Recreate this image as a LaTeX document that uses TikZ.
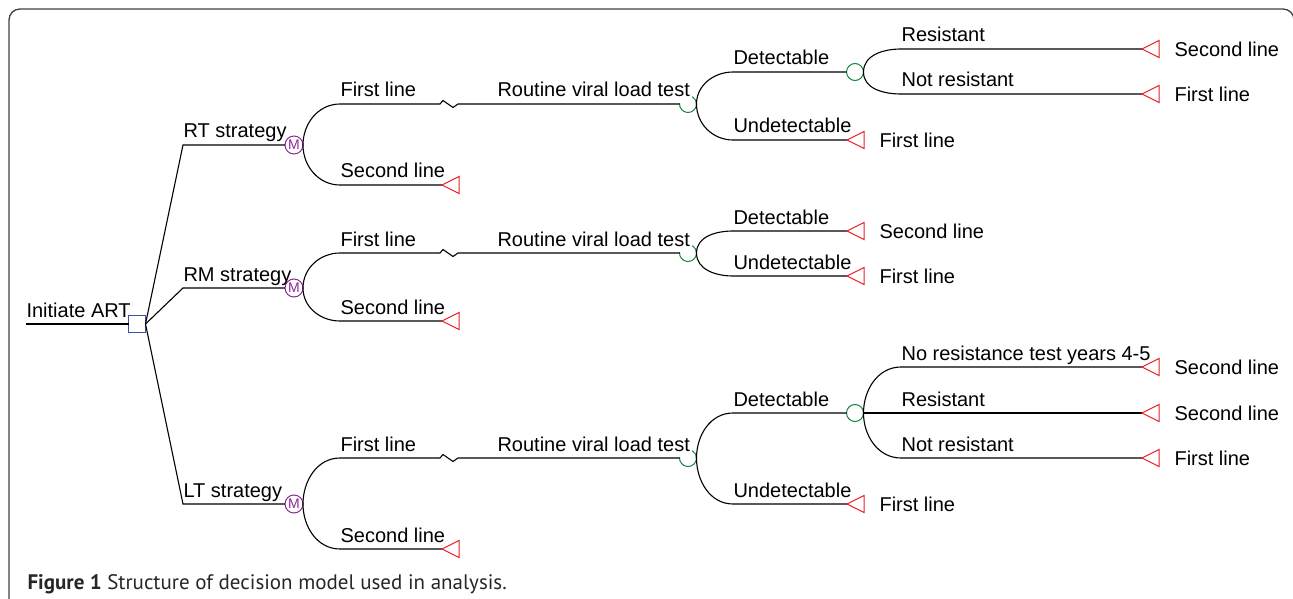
\documentclass[tikz,border=0pt]{standalone}
\usepackage{fontspec}
\setmainfont{Liberation Sans}
\newfontfamily\capfont{PT Sans}
\usepackage{tikz}
\usetikzlibrary{positioning}
\definecolor{decblue}{RGB}{60,80,170}
\definecolor{markovpurple}{RGB}{140,40,150}
\definecolor{chancegreen}{RGB}{20,130,60}
\definecolor{termred}{RGB}{235,30,35}

\begin{document}
\begin{tikzpicture}[x=1pt,y=-1pt,line width=1.1pt,
    every node/.style={font=\fontsize{20}{24}\selectfont},
    lab/.style={anchor=base west,inner sep=0pt,yshift=7pt},
    endlab/.style={anchor=west,inner sep=0pt,xshift=32pt},
    dec/.style={draw=decblue,rectangle,minimum size=17pt,inner sep=0pt,outer sep=0pt,line width=1pt},
    markov/.style={draw=markovpurple,text=markovpurple,circle,minimum size=18pt,inner sep=0pt,outer sep=0pt,line width=1pt,font=\fontsize{14}{14}\selectfont},
    chance/.style={draw=chancegreen,circle,minimum size=17pt,inner sep=0pt,outer sep=0pt,line width=1pt},
    term/.pic={\draw[termred,line width=1pt] (0,0) -- (17,-8.5) -- (17,8.5) -- cycle;}]
                \useasboundingbox (0,0) rectangle (1293,599);
                % frame
                \draw[line width=1.3pt,black!75,rounded corners=11pt] (9,620) -- (9,9) -- (1294,9) -- (1294,620);
                % decision node
                \node[dec] (init) at (137,324) {};
                \coordinate (root) at (26,324);
                \draw (root) node[lab] {Initiate ART} -- (init);
                % the three strategies
                \foreach \s/\y/\a/\b in {RT/145/104/185, RM/288/253/321, LT/504/458/549}
                  {
                    \coordinate (k\s) at (183,\y);
                    \node[markov] (m\s) at (294,\y) {M};
                    \draw (init.east) -- (k\s) node[lab] {\s\ strategy} -- (m\s);
                    \coordinate (f\s) at (340,\a);
                    \coordinate (s\s) at (340,\b);
                    \coordinate (t\s) at (442,\b);
                    \node[chance,draw=none] (c\s) at (688,\a) {};
                    \draw[chancegreen,line width=1pt] (c\s.175) arc[start angle=-175,end angle=-420,radius=8.5];
                    \draw (m\s.east) to[out=90,in=180] (f\s) node[lab] {First line}
                      -- ++(100,0) -- ++(3,-3.5) -- ++(10,7) -- ++(5,-3.5)
                      -- ++(39,0) node[lab] {Routine viral load test} -- (c\s.west);
                    \draw (m\s.east) to[out=-90,in=180] (s\s) node[lab] {Second line} -- (t\s);
                    \pic at (t\s) {term};
                  }
                % RT strategy, after the test
                \coordinate (rtD) at (733,72);
                \coordinate (rtU) at (733,140);
                \coordinate (tRTu) at (847,140);
                \node[chance] (dRT) at (855,72) {};
                \draw (cRT.east) to[out=90,in=180] (rtD) node[lab] {Detectable} -- (dRT);
                \draw (cRT.east) to[out=-90,in=180] (rtU) node[lab] {Undetectable} -- (tRTu) node[endlab] {First line};
                \coordinate (rtR) at (901,49);
                \coordinate (rtN) at (901,94);
                \coordinate (tRTr) at (1142,49);
                \coordinate (tRTn) at (1142,94);
                \draw (dRT.east) to[out=90,in=180] (rtR) node[lab] {Resistant} -- (tRTr) node[endlab] {Second line};
                \draw (dRT.east) to[out=-90,in=180] (rtN) node[lab] {Not resistant} -- (tRTn) node[endlab] {First line};
                % RM strategy, after the test
                \coordinate (rmD) at (733,231);
                \coordinate (rmU) at (733,276);
                \coordinate (tRMd) at (847,231);
                \coordinate (tRMu) at (847,276);
                \draw (cRM.east) to[out=90,in=180] (rmD) node[lab] {Detectable} -- (tRMd) node[endlab] {Second line};
                \draw (cRM.east) to[out=-90,in=180] (rmU) node[lab] {Undetectable} -- (tRMu) node[endlab] {First line};
                % LT strategy, after the test
                \coordinate (ltD) at (733,413);
                \coordinate (ltU) at (733,504);
                \coordinate (tLTu) at (847,504);
                \node[chance] (dLT) at (855,413) {};
                \draw (cLT.east) to[out=90,in=180] (ltD) node[lab] {Detectable} -- (dLT);
                \draw (cLT.east) to[out=-90,in=180] (ltU) node[lab] {Undetectable} -- (tLTu) node[endlab] {First line};
                \coordinate (ltX) at (901,367);
                \coordinate (ltR) at (901,413);
                \coordinate (ltN) at (901,458);
                \coordinate (tLTx) at (1142,367);
                \coordinate (tLTr) at (1142,413);
                \coordinate (tLTn) at (1142,458);
                \draw (dLT.east) to[out=90,in=180] (ltX) node[lab] {No resistance test years 4-5} -- (tLTx) node[endlab] {Second line};
                \draw (dLT.east) -- (ltR) node[lab] {Resistant} -- (tLTr) node[endlab] {Second line};
                \draw (dLT.east) to[out=-90,in=180] (ltN) node[lab] {Not resistant} -- (tLTn) node[endlab] {First line};
                % terminal nodes
                \foreach \t in {tRTu,tRTr,tRTn,tRMd,tRMu,tLTu,tLTx,tLTr,tLTn}
                  {
                    \pic at (\t) {term};
                  }
                % caption
                \node[anchor=base west,inner sep=0pt,font=\capfont\fontsize{21}{24}\selectfont,text=black!85] (cap) at (27,589)
                  {\textbf{Figure 1} Structure of decision model used in analysis.};
              \end{tikzpicture}
\end{document}
